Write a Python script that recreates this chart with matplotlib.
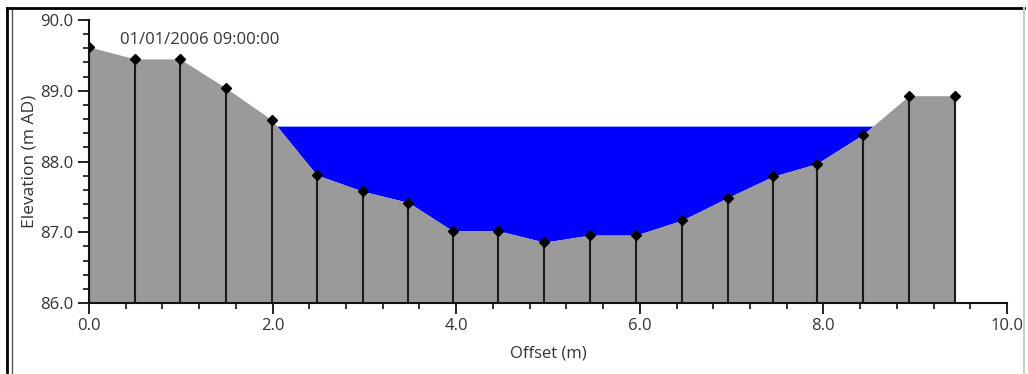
import matplotlib.pyplot as plt
from matplotlib.lines import Line2D
from matplotlib.ticker import MultipleLocator, FormatStrFormatter

# ---------- data ----------
offsets = [0.0, 0.50, 0.99, 1.49, 1.99, 2.48, 2.98, 3.48, 3.96, 4.46,
           4.96, 5.46, 5.96, 6.46, 6.96, 7.45, 7.93, 8.43, 8.93, 9.43]
elevations = [89.62, 89.45, 89.45, 89.04, 88.59, 87.81, 87.58, 87.42, 87.02, 87.02,
              86.86, 86.96, 86.96, 87.17, 87.49, 87.79, 87.97, 88.38, 88.93, 88.93]
water_level = 88.50
timestamp = "01/01/2006 09:00:00"
bed_level = 86.0

# ---------- plot ----------
plt.rcParams["font.family"] = ["Open Sans", "DejaVu Sans"]
text_col = "#333333"

fig = plt.figure(figsize=(10.28, 3.74), dpi=100)
ax = fig.add_axes([89 / 1028, 71 / 374, 918 / 1028, 283 / 374])

water = [water_level] * len(offsets)
ax.fill_between(offsets, elevations, water,
                where=[e < water_level for e in elevations],
                interpolate=True, color="#0000ff", linewidth=0, zorder=1)
ax.fill_between(offsets, elevations, bed_level, color="#9a9a9a",
                linewidth=0, zorder=2)
ax.vlines(offsets, bed_level, elevations, color="#1a1a1a", linewidth=1.5, zorder=3)
ax.plot(offsets, elevations, linestyle="none", marker="D", markersize=5.5,
        color="black", zorder=4)

ax.set_xlim(0, 10)
ax.set_ylim(86, 90)
ax.xaxis.set_major_locator(MultipleLocator(2))
ax.xaxis.set_minor_locator(MultipleLocator(0.4))
ax.yaxis.set_major_locator(MultipleLocator(1))
ax.yaxis.set_minor_locator(MultipleLocator(0.2))
ax.xaxis.set_major_formatter(FormatStrFormatter("%.1f"))
ax.yaxis.set_major_formatter(FormatStrFormatter("%.1f"))

for side in ["top", "right"]:
    ax.spines[side].set_visible(False)
for side in ["left", "bottom"]:
    ax.spines[side].set_color("#111111")
    ax.spines[side].set_linewidth(1.5)
    ax.spines[side].set_zorder(5)

ax.tick_params(which="major", length=8, width=1.3, color="#111111",
               labelsize=12, labelcolor=text_col, pad=3)
ax.tick_params(which="minor", length=4, width=1.2, color="#111111")

ax.set_xlabel("Offset (m)", fontsize=12, color=text_col, labelpad=8)
ax.set_ylabel("Elevation (m AD)", fontsize=12.5, color=text_col, labelpad=2)

ax.text(0.034, 0.93, timestamp, transform=ax.transAxes, fontsize=12,
        color=text_col, va="center", ha="left")

# window frame
fig.add_artist(Line2D([7 / 1028, 1024 / 1028], [1 - 8 / 374, 1 - 8 / 374],
                      transform=fig.transFigure, color="black", linewidth=2))
fig.add_artist(Line2D([7 / 1028, 7 / 1028], [0, 1 - 8 / 374],
                      transform=fig.transFigure, color="black", linewidth=2))
fig.add_artist(Line2D([12 / 1028, 12 / 1028], [0, 1 - 10 / 374],
                      transform=fig.transFigure, color="#555555", linewidth=1))
fig.add_artist(Line2D([1024 / 1028, 1024 / 1028], [0, 1 - 8 / 374],
                      transform=fig.transFigure, color="#cccccc", linewidth=1.5))

fig.savefig("out.png", dpi=100)
